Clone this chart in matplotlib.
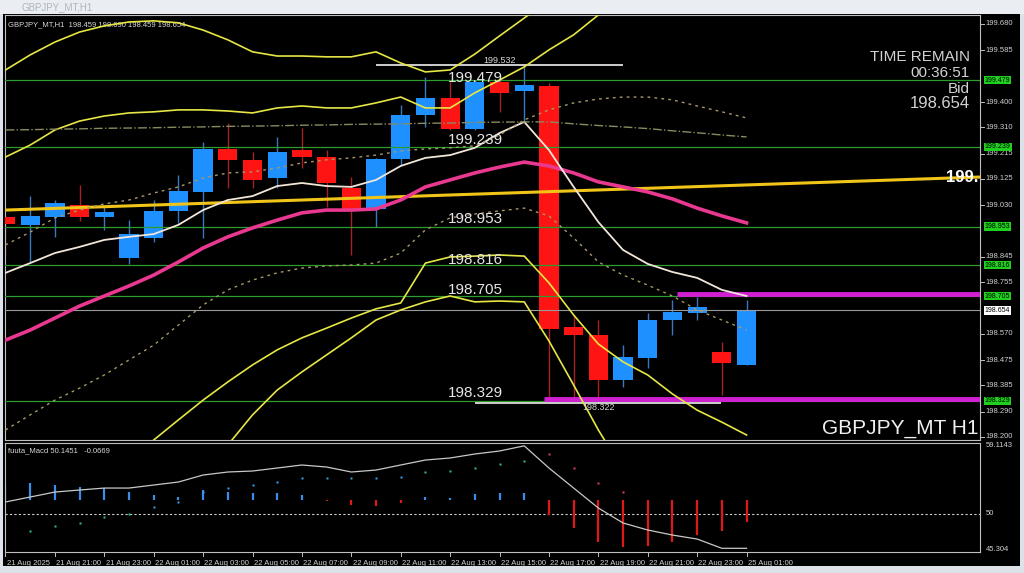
import matplotlib
matplotlib.use("Agg")
import matplotlib.pyplot as plt
from matplotlib.patches import Rectangle

# GBPJPY H1 candles, index 0 = 21 Aug 19:00 ... index 30 = 25 Aug 01:00
opens = [198.988, 198.960, 198.988, 199.031, 198.988, 198.841, 198.913, 199.010, 199.078, 199.232,
         199.193, 199.128, 199.228, 199.203, 199.092, 199.017, 199.196, 199.354, 199.415, 199.304,
         199.472, 199.440, 199.458, 198.594, 198.565, 198.404, 198.483, 198.619, 198.644, 198.504, 198.459]
highs = [198.995, 199.064, 199.049, 199.103, 199.024, 198.977, 199.049, 199.139, 199.257, 199.325,
         199.221, 199.275, 199.307, 199.228, 199.132, 199.200, 199.390, 199.490, 199.472, 199.479,
         199.479, 199.532, 199.470, 198.637, 198.619, 198.530, 198.644, 198.691, 198.702, 198.540, 198.690]
lows = [198.852, 198.827, 198.917, 198.975, 198.942, 198.820, 198.899, 198.967, 198.913, 199.092,
        199.092, 199.092, 199.164, 199.024, 198.852, 198.953, 199.175, 199.311, 199.300, 199.300,
        199.365, 199.329, 198.343, 198.343, 198.322, 198.379, 198.447, 198.565, 198.619, 198.350, 198.459]
closes = [198.963, 198.992, 199.038, 198.988, 199.006, 198.927, 199.010, 199.081, 199.232, 199.193,
          199.121, 199.221, 199.203, 199.110, 199.010, 199.196, 199.354, 199.415, 199.304, 199.472,
          199.433, 199.461, 198.587, 198.565, 198.404, 198.486, 198.619, 198.648, 198.666, 198.465, 198.654]

# indicator lines (price units)
ma_long = [199.013, 199.016, 199.019, 199.022, 199.025, 199.028, 199.031, 199.034, 199.037, 199.040,
           199.043, 199.046, 199.049, 199.052, 199.055, 199.058, 199.061, 199.064, 199.067, 199.070,
           199.073, 199.076, 199.079, 199.082, 199.085, 199.088, 199.091, 199.094, 199.097, 199.100,
           199.103, 199.106, 199.109, 199.112, 199.115, 199.118, 199.121, 199.124, 199.127, 199.130,
           199.133]
ma_mid = [198.547, 198.583, 198.626, 198.669, 198.705, 198.741, 198.780, 198.827, 198.877, 198.917,
          198.949, 198.977, 199.003, 199.013, 199.013, 199.017, 199.049, 199.096, 199.121, 199.146,
          199.167, 199.185, 199.171, 199.146, 199.114, 199.096, 199.078, 199.053, 199.020, 198.992, 198.967]
ma_fast = [198.788, 198.823, 198.859, 198.881, 198.906, 198.917, 198.927, 198.960, 199.013, 199.049,
           199.063, 199.099, 199.110, 199.099, 199.096, 199.121, 199.171, 199.200, 199.210, 199.236,
           199.289, 199.329, 199.228, 199.096, 198.970, 198.870, 198.820, 198.791, 198.770, 198.727, 198.705]
dot_upper = [198.888, 198.934, 198.985, 199.013, 199.035, 199.049, 199.074, 199.096, 199.128, 199.146,
             199.150, 199.164, 199.182, 199.193, 199.200, 199.210, 199.225, 199.232, 199.236, 199.243,
             199.282, 199.336, 199.372, 199.397, 199.411, 199.418, 199.418, 199.408, 199.386, 199.365, 199.343]
dash_mid = [199.300, 199.301, 199.303, 199.304, 199.306, 199.307, 199.308, 199.310, 199.311, 199.313,
            199.314, 199.315, 199.317, 199.318, 199.320, 199.321, 199.322, 199.324, 199.325, 199.327,
            199.328, 199.329, 199.329, 199.322, 199.316, 199.311, 199.305, 199.297, 199.290, 199.282, 199.275]
dot_lower = [198.225, 198.279, 198.332, 198.375, 198.422, 198.476, 198.529, 198.601, 198.673, 198.727,
             198.762, 198.788, 198.805, 198.813, 198.816, 198.823, 198.859, 198.942, 198.985, 198.999,
             199.010, 199.020, 198.992, 198.913, 198.827, 198.780, 198.744, 198.705, 198.655, 198.619, 198.583]
band_up2 = [199.515, 199.569, 199.615, 199.651, 199.673, 199.687, 199.691, 199.684, 199.658, 199.623,
            199.580, 199.565, 199.565, 199.562, 199.562, 199.580, 199.540, 199.508, 199.515, 199.572,
            199.637, 199.701, 199.766, 199.850, 199.920, 199.980, 200.020, 200.050, 200.070, 200.080, 200.090]
band_up1 = [199.203, 199.246, 199.300, 199.332, 199.350, 199.361, 199.365, 199.372, 199.372, 199.368,
            199.361, 199.379, 199.386, 199.379, 199.379, 199.397, 199.418, 199.379, 199.379, 199.433,
            199.479, 199.526, 199.587, 199.641, 199.712, 199.760, 199.800, 199.830, 199.860, 199.880, 199.900]
band_lo1 = [197.900, 197.960, 198.010, 198.050, 198.090, 198.117, 198.189, 198.261, 198.332, 198.397,
            198.458, 198.512, 198.555, 198.590, 198.626, 198.659, 198.680, 198.823, 198.845, 198.848,
            198.852, 198.848, 198.752, 198.637, 198.533, 198.469, 198.422, 198.354, 198.296, 198.253, 198.207]
band_lo2 = [197.700, 197.750, 197.800, 197.850, 197.900, 197.930, 197.960, 198.000, 198.046, 198.171,
            198.279, 198.368, 198.433, 198.494, 198.555, 198.619, 198.655, 198.684, 198.705, 198.684,
            198.687, 198.684, 198.544, 198.386, 198.225, 198.081, 197.990, 197.920, 197.870, 197.830, 197.800]

# horizontal levels
green_levels = [199.479, 199.239, 198.953, 198.816, 198.705, 198.329]
bid = 198.654
axis_ticks = [199.680, 199.585, 199.400, 199.310, 199.215, 199.125, 199.030, 198.845,
              198.755, 198.570, 198.475, 198.385, 198.290, 198.200]

# oscillator panel
osc_line = [51.55, 52.21, 52.87, 53.14, 53.40, 53.40, 53.80, 54.20, 55.13, 55.53,
            55.66, 56.06, 56.46, 56.19, 55.53, 55.79, 56.46, 57.12, 57.39, 57.92,
            58.32, 59.00, 56.06, 53.40, 50.75, 48.76, 47.83, 47.16, 46.63, 45.40, 45.40]
osc_hist = [2.0, 2.26, 2.0, 1.73, 1.6, 1.06, 0.66, 0.4, 1.33, 1.06,
            0.93, 0.93, 0.66, -0.13, -0.66, -0.8, -0.4, 0.4, 0.27, 0.8,
            0.93, 0.93, -2.0, -3.7, -5.6, -6.2, -6.1, -5.6, -4.6, -4.1, -2.9]
osc_dots = [None, 47.69, 48.36, 48.76, 49.55, 49.95, 50.88, 51.5, 52.87, 53.40,
            53.80, 54.20, 54.73, 54.73, 54.73, 54.73, 54.86, 55.53, 55.66, 56.06,
            56.59, 56.99, 57.92, 56.06, 54.07, 52.87, None, None, None, None, None]
hist_base = 51.8

time_labels = ["21 Aug 2025", "21 Aug 21:00", "21 Aug 23:00", "22 Aug 01:00", "22 Aug 03:00",
               "22 Aug 05:00", "22 Aug 07:00", "22 Aug 09:00", "22 Aug 11:00", "22 Aug 13:00",
               "22 Aug 15:00", "22 Aug 17:00", "22 Aug 19:00", "22 Aug 21:00", "22 Aug 23:00",
               "25 Aug 01:00"]

plt.rcParams['font.family'] = ['Liberation Sans', 'DejaVu Sans']

W, H = 1024, 573
fig = plt.figure(figsize=(10.24, 5.73), dpi=100, facecolor='#dde2e8')
fig.add_artist(Rectangle((3 / W, 1 - 566 / H), 1017 / W, 552 / H, transform=fig.transFigure,
                         facecolor='black', edgecolor='none', zorder=-10))
fig.add_artist(Rectangle((0, 1 - 14 / H), 1, 14 / H, transform=fig.transFigure,
                         facecolor='#eaeef3', edgecolor='none', zorder=-9))
fig.text(22 / W, 1 - 7 / H, "GBPJPY_MT,H1", color='#b0b6bd', fontsize=7, va='center')

ax = fig.add_axes([5 / W, 1 - 440 / H, 975 / W, 425 / H], facecolor='black')
ax2 = fig.add_axes([5 / W, 1 - 552 / H, 975 / W, 109 / H], facecolor='black', sharex=ax)
for a in (ax, ax2):
    for s in a.spines.values():
        s.set_color('#bfbfbf')
        s.set_linewidth(0.8)
    a.tick_params(left=False, bottom=False, labelleft=False, labelbottom=False)

n = len(opens)
idx = list(range(n))
ax.set_xlim(-0.02, 39.45)
ax.set_ylim(198.189, 199.712)

# candles
for i in idx:
    up = closes[i] >= opens[i]
    col = '#1e90ff' if up else '#ff1414'
    wick = '#3a78c0' if up else '#a52222'
    ax.vlines(i, lows[i], highs[i], color=wick, lw=1.0, zorder=2)
    lo, hi = min(opens[i], closes[i]), max(opens[i], closes[i])
    ax.bar(i, max(hi - lo, 0.004), bottom=lo, width=0.78, color=col, zorder=3)

# levels
for lv in green_levels:
    ax.axhline(lv, color='#2e9b2e', lw=0.9, zorder=4)
ax.axhline(bid, color='#9a9a9a', lw=0.8, zorder=4)
ax.hlines(199.532, 15.0, 25.0, color='#f0f0f0', lw=1.2, zorder=4)
ax.hlines(198.322, 19.0, 28.95, color='#f0f0f0', lw=1.2, zorder=4)
ax.hlines(198.712, 27.2, 39.45, color='#d21fd2', lw=3.5, zorder=5)
ax.hlines(198.336, 21.8, 39.45, color='#d21fd2', lw=3.5, zorder=5)

# indicators
ax.plot(range(len(ma_long)), ma_long, color='#f0c419', lw=2.2, zorder=6)
ax.plot(idx, ma_mid, color='#e8388f', lw=2.6, zorder=6)
ax.plot(idx, ma_fast, color='#f2e6d8', lw=1.3, zorder=6)
for b in (band_up2, band_up1, band_lo1, band_lo2):
    ax.plot(idx, b, color='#e6e645', lw=1.2, zorder=6)
ax.plot(idx, dot_upper, color='#a89868', lw=1.0, ls=(0, (2, 3)), zorder=6)
ax.plot(idx, dot_lower, color='#a89868', lw=1.0, ls=(0, (2, 3)), zorder=6)
ax.plot(idx, dash_mid, color='#8a8a60', lw=1.0, ls='-.', zorder=6)

# level labels
lbl = dict(color='#e6e6e6', fontsize=11, ha='left', va='center', zorder=8)
for text, y in [("199.479", 199.488), ("199.239", 199.263), ("198.953", 198.981),
                ("198.816", 198.834), ("198.705", 198.727), ("198.329", 198.356)]:
    ax.text(17.9, y, text, **lbl)
ax.text(20.0, 199.550, "199.532", color='#d8d8d8', fontsize=6.5, ha='center', va='center', zorder=8)
ax.text(24.0, 198.304, "198.322", color='#d8d8d8', fontsize=6.5, ha='center', va='center', zorder=8)

# info texts
ax.text(0.003, 0.978, "GBPJPY_MT,H1  198.459 198.690 198.459 198.654", transform=ax.transAxes,
        color='#d8d8d8', fontsize=5.5, va='center')
for text, yp, fs in [("TIME REMAIN", 57, 11), ("00:36:51", 73, 11), ("Bid", 89, 11), ("198.654", 104, 12)]:
    ax.text((970 - 5) / 975, (440 - yp) / 425, text, transform=ax.transAxes, color='#d2d2d2',
            fontsize=fs, ha='right', va='center', zorder=8)
ax.text((978 - 5) / 975, (440 - 429) / 425, "GBPJPY_MT H1", transform=ax.transAxes, color='#f0f0f0',
        fontsize=15, ha='right', va='center', zorder=8)
ytr = ax.get_yaxis_transform()
ax.text((946 - 5) / 975, 199.128, "199.", transform=ytr, color='white', fontsize=12, fontweight='bold',
        ha='left', va='center', zorder=8, clip_on=True)

# right price scale
for t in axis_ticks:
    ax.text(1.006, t, f"{t:.3f}", transform=ytr, color='#cfcfcf', fontsize=5.5, va='center', clip_on=False)
    ax.plot([1.0, 1.004], [t, t], transform=ytr, color='#bfbfbf', lw=0.7, clip_on=False)
for lv in green_levels:
    ax.text(1.005, lv, f"{lv:.3f}", transform=ytr, color='black', fontsize=5.0, va='center', clip_on=False,
            zorder=9, bbox=dict(boxstyle='square,pad=0.12', facecolor='#1fd01f', edgecolor='none'))
ax.text(1.005, bid, f"{bid:.3f}", transform=ytr, color='black', fontsize=5.0, va='center', clip_on=False,
        zorder=9, bbox=dict(boxstyle='square,pad=0.12', facecolor='white', edgecolor='none'))

# oscillator panel
ax2.set_ylim(44.91, 59.38)
ax2.axhline(50, color='#d0d0d0', lw=0.8, ls=(0, (2, 2)))
for i in idx:
    h = osc_hist[i]
    ax2.vlines(i, hist_base, hist_base + h, color='#3a8ee6' if h >= 0 else '#e01818', lw=1.6)
ax2.plot(idx, osc_line, color='#c8c8c8', lw=0.9)
for i in idx:
    v = osc_dots[i]
    if v is None:
        continue
    if i >= 22:
        c = '#e04060'
    elif i <= 5 or 17 <= i <= 21:
        c = '#2fb89a'
    else:
        c = '#3aa0e8'
    ax2.plot(i, v, 's', ms=1.8, color=c, mec='none')
ax2.text(0.003, 0.93, "fuuta_Macd 50.1451   -0.0669", transform=ax2.transAxes, color='#d8d8d8',
         fontsize=5.5, va='center')
ytr2 = ax2.get_yaxis_transform()
for v, s in [(59.1143, "59.1143"), (50, "50"), (45.304, "45.304")]:
    ax2.text(1.006, v, s, transform=ytr2, color='#cfcfcf', fontsize=5.5, va='center', clip_on=False)

# time axis
xtr = ax2.get_xaxis_transform()
for k, lab in enumerate(time_labels):
    x = 2 * k
    ax2.plot([x, x], [0, -0.04], transform=xtr, color='#bfbfbf', lw=0.7, clip_on=False)
    ax2.text(x + 0.05, -0.07, lab, transform=xtr, color='#d0d0d0', fontsize=5.5, va='top', ha='left',
             clip_on=False)

fig.savefig("out.png", dpi=100, facecolor=fig.get_facecolor())
